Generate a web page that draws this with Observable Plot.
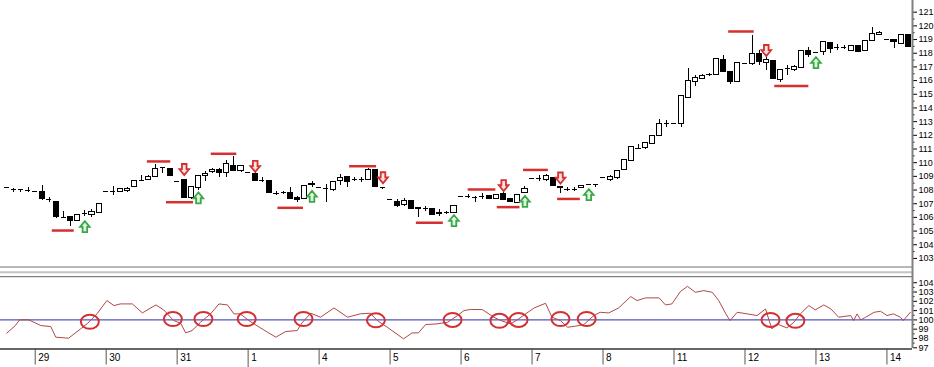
<!DOCTYPE html>
<html><head><meta charset="utf-8">
<script src="https://cdn.jsdelivr.net/npm/d3@7"></script>
<script src="https://cdn.jsdelivr.net/npm/@observablehq/plot@0.6"></script>
<style>
body{margin:0;background:#fff;}
#chart{width:934px;height:367px;overflow:hidden;background:#fff;}
#chart svg{display:block;overflow:visible;}
</style></head><body><div id="chart"></div>
<script>
// ---------- price bars (one per bar index, 10 bars per trading day) ----------
const open = [
108.18,108.05,108.02,108.00,107.88,107.84,107.29,107.16,106.00,106.01,
105.75,106.31,106.21,106.33,107.87,107.87,107.87,107.90,108.20,108.70,
108.70,108.94,109.62,109.55,108.65,108.75,107.40,108.13,108.99,109.30,
109.50,109.26,109.79,109.38,109.26,109.19,108.72,108.65,107.77,107.77,
107.77,107.43,107.36,108.38,108.16,108.14,108.02,108.65,108.94,108.75,
108.75,108.75,109.45,108.18,107.29,107.16,106.87,107.23,106.70,106.63,
106.63,106.25,106.33,106.33,107.53,107.53,107.48,107.53,107.53,107.36,
107.72,107.36,107.04,107.77,108.87,108.87,108.70,108.89,108.22,108.05,
108.05,108.12,108.38,108.42,108.92,108.75,108.87,109.43,110.12,111.06,
111.06,111.38,111.94,112.84,112.84,112.84,114.71,115.93,116.13,116.42,
116.42,117.52,116.61,115.93,117.25,117.23,117.96,117.27,117.42,116.06,
116.86,116.79,116.94,118.13,118.03,118.08,118.76,118.44,118.44,118.20,
118.51,118.13,118.93,119.30,118.98,118.98,118.69,119.30];
const high = [
108.20,108.10,108.05,108.20,107.88,108.33,107.45,107.16,106.43,106.10,
106.20,106.50,106.55,107.00,107.87,108.24,108.10,108.20,108.70,109.06,
109.06,109.85,109.62,109.55,108.65,108.75,108.21,109.06,109.35,109.60,
109.60,110.16,110.48,109.79,109.26,109.30,108.90,108.65,107.90,107.90,
108.16,107.50,108.33,108.60,108.16,108.40,108.57,109.10,109.00,108.90,
108.95,109.55,109.45,108.20,107.29,107.30,107.40,107.23,106.75,106.80,
106.63,106.55,106.45,106.90,107.53,107.70,107.50,107.75,107.55,107.70,
107.90,107.36,107.65,108.25,108.87,109.05,109.10,108.95,108.25,108.20,
108.20,108.35,108.42,108.44,108.92,109.05,109.45,110.20,111.20,111.33,
111.50,112.00,113.16,113.06,112.84,114.85,116.86,116.35,116.45,116.55,
117.59,117.80,116.61,117.30,117.25,119.30,118.20,117.70,117.42,116.80,
117.10,117.10,118.13,118.40,118.03,118.81,118.76,118.65,118.60,118.55,
118.51,118.93,119.90,119.60,118.98,118.98,119.35,119.35];
const low = [
108.14,107.80,107.80,107.85,107.88,107.23,107.10,105.94,106.00,105.33,
105.70,106.10,106.00,106.30,107.87,107.62,107.85,107.80,108.20,108.70,
108.70,108.94,109.19,109.06,108.65,107.45,107.30,108.00,108.62,109.20,
108.90,108.90,109.38,109.30,109.26,108.65,108.55,107.77,107.60,107.65,
107.36,107.10,107.36,108.20,108.16,107.07,107.90,108.35,108.20,108.60,
108.55,108.75,108.25,108.05,107.29,106.75,106.80,106.63,106.00,106.45,
106.20,106.05,106.20,106.33,107.53,107.35,107.10,107.30,107.35,107.36,
107.29,107.11,107.04,107.77,108.87,108.60,108.60,108.33,107.75,107.90,
107.90,108.10,108.30,108.20,108.92,108.60,108.80,109.43,110.05,111.00,
110.95,111.30,111.90,112.60,112.84,112.60,114.71,115.60,116.10,116.30,
116.40,116.61,115.69,115.93,117.25,117.10,117.10,116.74,116.13,115.84,
116.40,116.70,116.94,117.70,118.03,117.85,117.95,118.20,118.25,118.20,
118.08,118.13,118.93,119.30,118.98,118.32,118.65,118.40];
const close = [
108.16,108.05,108.02,108.00,107.88,107.36,107.29,106.01,106.00,105.72,
106.19,106.31,106.43,106.99,107.87,107.87,108.06,108.10,108.65,108.70,
108.94,109.55,109.62,109.06,108.65,107.45,108.21,109.06,109.19,109.50,
109.26,109.87,109.38,109.79,109.26,108.65,108.72,107.77,107.77,107.80,
107.36,107.29,108.33,108.42,108.16,108.14,108.57,108.89,108.57,108.75,
108.75,109.50,108.25,108.16,107.29,106.82,107.23,106.63,106.65,106.63,
106.21,106.35,106.33,106.82,107.53,107.53,107.48,107.53,107.36,107.65,
107.29,107.11,107.65,108.09,108.87,108.85,108.99,108.33,108.12,108.05,
108.05,108.33,108.38,108.42,108.92,108.92,109.40,110.18,111.11,111.06,
111.45,111.94,112.84,112.84,112.84,114.84,115.96,116.18,116.37,116.42,
117.59,116.61,115.93,117.30,117.25,117.96,117.35,117.52,116.13,116.79,
116.86,116.98,118.13,117.90,118.03,118.81,118.32,118.44,118.44,118.51,
118.08,118.93,119.37,119.50,118.98,118.81,119.30,118.44];

// ---------- signals ----------
const resistStart = [19.8, 28.8, 48.3, 65.0, 72.8, 101.7];
const resistEnd   = [23.1, 32.4, 52.1, 68.9, 76.3, 105.3];
const resistPrice = [110.09, 110.65, 109.74, 108.04, 109.47, 119.59];
const supportStart = [6.4, 22.5, 38.2, 57.7, 69.1, 77.6, 108.2];
const supportEnd   = [9.5, 26.3, 41.8, 61.5, 72.3, 80.8, 113.0];
const supportPrice = [105.04, 107.11, 106.70, 105.61, 106.75, 107.35, 115.60];
const sellBars  = [25, 35, 53, 70, 78, 107];
const sellPrice = [109.5, 109.73, 108.9, 108.33, 108.88, 118.2];
const buyBars   = [11, 27, 43, 63, 73, 82, 114];
const buyPrice  = [105.33, 107.42, 107.54, 105.77, 107.17, 107.67, 117.32];

// ---------- oscillator ----------
const oscPos = [0,1.2,1.8,3.1,4.8,6.2,6.9,8.7,10.4,11.3,
12.7,14.1,15.1,16.0,17.7,19.1,21.0,22.1,23.5,24.5,
25.2,26.1,27.3,28.7,29.9,31.1,32.0,32.9,34.1,36.2,
37.9,39.3,40.9,41.6,42.8,44.2,46.1,48.0,49.8,51.2,
52.2,53.6,55.9,57.1,58.0,59.0,60.6,62.1,63.5,64.4,
65.3,67.0,68.6,69.6,71.0,71.9,73.1,74.3,75.9,76.8,
78.0,79.0,80.1,81.3,82.7,83.6,84.8,86.2,87.9,88.8,
90.0,91.9,92.8,93.7,94.9,95.9,97.0,98.2,99.4,100.3,
101.3,101.9,102.9,104.3,105.7,106.9,107.4,107.8,108.5,109.9,
110.9,111.8,113.0,113.9,115.1,116.1,117.2,118.9,119.3,119.8,
120.3,121.0,122.2,123.1,124.0,124.9,125.9,126.3,127.3];
const oscVal = [98.57,99.39,100,100,99.39,99.28,98.14,98.03,99.03,99.57,
100.65,102.08,101.54,101.72,101.72,100.75,101.61,101.08,99.93,99.64,
98.6,98.85,99.75,100.65,101.72,101.61,100.65,100.65,99.93,98.92,
98.14,98.75,98.85,99.68,100.72,100.29,101.29,100.29,100.65,100.72,
99.93,99.21,97.96,98.6,98.6,99.5,99.57,99.75,100.47,101.0,
101.12,101.11,100.29,99.93,99.57,100,100.65,101.29,101.79,100.29,
99.93,99.21,99.32,99.5,100.47,100.82,100.75,101.29,102.51,102.08,
102.37,102.37,101.61,101.72,103.05,103.62,102.97,103.15,102.97,102.08,
100.65,99.93,100.82,100.65,100.47,101.18,99.93,99.03,99.57,99.14,
99.75,100.65,101.54,101.08,101.61,101.18,100.29,100.47,99.93,100.65,
100,100.29,100.82,100.93,100.47,100.65,100.29,99.93,100.82];
const oscLevel = 100;
const crossPos = [11.7, 23.4, 27.7, 33.8, 41.8, 52.0, 62.8, 69.4, 72.1, 78.0, 81.7, 107.6, 111.1];
const crossVal = [99.8, 100.1, 100.1, 100.1, 100.1, 99.95, 100, 99.9, 100, 100.1, 100.1, 100, 99.9];

// ---------- time axis ----------
const dayLabels = ["29","30","31","1","4","5","6","7","8","11","12","13","14"];
const dayStart  = [4,14,24,34,44,54,64,74,84,94,104,114,124];
const monthStartBar = 34;

const priceTicks = d3.range(103, 122);
const oscTicks = d3.range(97, 105);

// ---------- build ----------
const bars = open.map((o, i) => ({i, o, h: high[i], l: low[i], c: close[i]}));
const isDoji = d => Math.abs(d.o - d.c) < 0.04;
const resist = resistStart.map((a, k) => ({a, b: resistEnd[k], p: resistPrice[k]}));
const support = supportStart.map((a, k) => ({a, b: supportEnd[k], p: supportPrice[k]}));
const sells = sellBars.map((i, k) => ({i, p: sellPrice[k]}));
const buys = buyBars.map((i, k) => ({i, p: buyPrice[k]}));
const osc = oscPos.map((i, k) => ({i, v: oscVal[k]}));
const crosses = crossPos.map((i, k) => ({i, v: crossVal[k]}));
const days = dayLabels.map((label, k) => ({label, i: dayStart[k]}));

const W = 934, MR = 22;
const XD = [-0.888, 127.6];
const HW = 0.36; // half body width in bar units
const FONT = "'Liberation Sans', Arial, sans-serif";
const RED = "#d3302f", GREEN = "#3aa845";

const arrowDown = {draw(ctx){ctx.moveTo(-2.3,-5.5);ctx.lineTo(2.3,-5.5);ctx.lineTo(2.3,-0.3);ctx.lineTo(4.8,-0.3);ctx.lineTo(0,5.5);ctx.lineTo(-4.8,-0.3);ctx.lineTo(-2.3,-0.3);ctx.closePath();}};
const arrowUp = {draw(ctx){ctx.moveTo(-2.3,5.5);ctx.lineTo(2.3,5.5);ctx.lineTo(2.3,0.3);ctx.lineTo(4.8,0.3);ctx.lineTo(0,-5.5);ctx.lineTo(-4.8,0.3);ctx.lineTo(-2.3,0.3);ctx.closePath();}};
const ellipse = {draw(ctx){const rx=9, ry=7, kx=rx*0.5523, ky=ry*0.5523;
  ctx.moveTo(rx,0);ctx.bezierCurveTo(rx,ky,kx,ry,0,ry);ctx.bezierCurveTo(-kx,ry,-rx,ky,-rx,0);
  ctx.bezierCurveTo(-rx,-ky,-kx,-ry,0,-ry);ctx.bezierCurveTo(kx,-ry,rx,-ky,rx,0);ctx.closePath();}};

// top panel: 266px, 13.68 px per price unit, 121 at y=11.7
const PPU = 13.68;
const yTop = 121 + 11.7 / PPU, yBot = 121 - (266 - 11.7) / PPU;
const pxPerBar = (W - MR) / (XD[1] - XD[0]);

const topPanel = Plot.plot({
  width: W, height: 266,
  marginLeft: 0, marginRight: MR, marginTop: 0, marginBottom: 0,
  style: {fontFamily: FONT, fontSize: "9px", background: "#fff", overflow: "visible"},
  x: {domain: XD, axis: null},
  y: {domain: [yBot, yTop], axis: "right", ticks: priceTicks, tickSize: 4, tickPadding: 2, tickFormat: d => String(d), label: null},
  marks: [
    Plot.ruleX(bars, {x: "i", y1: "l", y2: "h", stroke: "#000", strokeWidth: 1, shapeRendering: "crispEdges"}),
    Plot.rect(bars.filter(d => !isDoji(d) && d.c > d.o), {x1: d => d.i - HW, x2: d => d.i + HW, y1: "o", y2: "c", fill: "#fff", stroke: "#000", strokeWidth: 1, shapeRendering: "crispEdges"}),
    Plot.rect(bars.filter(d => !isDoji(d) && d.c < d.o), {x1: d => d.i - HW, x2: d => d.i + HW, y1: "o", y2: "c", fill: "#000", stroke: "#000", strokeWidth: 1, shapeRendering: "crispEdges"}),
    Plot.ruleY(bars.filter(isDoji), {y: "c", x1: d => d.i - HW, x2: d => d.i + HW, stroke: "#000", strokeWidth: 1, shapeRendering: "crispEdges"}),
    Plot.ruleY(resist, {y: "p", x1: "a", x2: "b", stroke: RED, strokeWidth: 2.5}),
    Plot.ruleY(support, {y: "p", x1: "a", x2: "b", stroke: RED, strokeWidth: 2.5}),
    Plot.dot(sells, {x: "i", y: "p", symbol: arrowDown, fill: "#fbe3e3", stroke: RED, strokeWidth: 1.8}),
    Plot.dot(buys, {x: "i", y: "p", symbol: arrowUp, fill: "#e2f5e4", stroke: GREEN, strokeWidth: 1.8}),
    Plot.ruleY(d3.range(103.5, 121, 1), {x1: XD[1], x2: XD[1] + 2.5 / pxPerBar, stroke: "#000"}),
    Plot.ruleX([XD[1]], {stroke: "#808080", strokeWidth: 2})
  ]
});

// lower panel: 82px, 9.29 px per unit, 100 at local y=53.4
const OPU = 9.29;
const oTop = 100 + 53.4 / OPU, oBot = 100 - (82 - 53.4) / OPU;
const atPx = px => oTop - px / OPU;

const lowPanel = Plot.plot({
  width: W, height: 82,
  marginLeft: 0, marginRight: MR, marginTop: 0, marginBottom: 0,
  style: {fontFamily: FONT, fontSize: "9px", background: "transparent", overflow: "visible"},
  x: {domain: XD, axis: null},
  y: {domain: [oBot, oTop], axis: "right", ticks: oscTicks, tickSize: 4, tickPadding: 2, tickFormat: d => String(d), label: null},
  marks: [
    Plot.ruleY([atPx(0.5)], {stroke: "#707070", strokeWidth: 1}),
    Plot.ruleY([atPx(5.8)], {stroke: "#c4c4c4", strokeWidth: 2}),
    Plot.ruleY([atPx(10.2)], {stroke: "#606060", strokeWidth: 1}),
    Plot.ruleY([oscLevel], {stroke: "#2b2bb0", strokeWidth: 1}),
    Plot.line(osc, {x: "i", y: "v", stroke: "#b04848", strokeWidth: 1}),
    Plot.dot(crosses, {x: "i", y: "v", symbol: ellipse, fill: "none", stroke: RED, strokeWidth: 2}),
    Plot.ruleY(d3.range(97.5, 104, 1), {x1: XD[1], x2: XD[1] + 2.5 / pxPerBar, stroke: "#000"}),
    Plot.ruleX([XD[1]], {y1: atPx(0), y2: oBot, stroke: "#808080", strokeWidth: 2})
  ]
});

// date row: 19px
const datePanel = Plot.plot({
  width: W, height: 19,
  marginLeft: 0, marginRight: MR, marginTop: 0, marginBottom: 0,
  style: {fontFamily: FONT, fontSize: "10px", background: "transparent", overflow: "visible"},
  x: {domain: XD, axis: null},
  y: {domain: [0, 19], range: [0, 19], axis: null},
  marks: [
    Plot.ruleY([0.5], {stroke: "#333", strokeWidth: 1.5}),
    Plot.ruleX(days, {x: "i", y1: 0, y2: 16.5, stroke: "#555", strokeWidth: 1}),
    Plot.text(days, {x: "i", y: 9, text: "label", textAnchor: "start", dx: 3, fill: "#000"}),
    Plot.ruleX([monthStartBar], {y1: 16.5, y2: 19, stroke: "#555"})
  ]
});

const root = document.getElementById("chart");
root.append(topPanel, lowPanel, datePanel);
</script>
</body></html>
